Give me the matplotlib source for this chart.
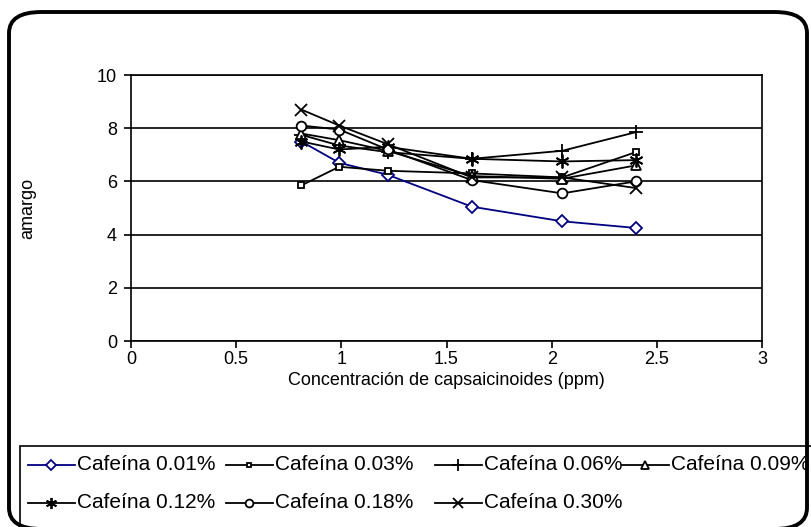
import matplotlib.pyplot as plt
from matplotlib.patches import FancyBboxPatch, Rectangle
from matplotlib.lines import Line2D

plt.rcParams['font.family'] = ['Liberation Sans', 'DejaVu Sans']

conc = [0.81, 0.99, 1.22, 1.62, 2.05, 2.40]
caf_001 = [7.50, 6.70, 6.25, 5.05, 4.50, 4.25]
caf_003 = [5.85, 6.55, 6.40, 6.30, 6.15, 7.10]
caf_006 = [7.75, 7.35, 7.10, 6.85, 7.15, 7.85]
caf_009 = [7.80, 7.55, 7.15, 6.20, 6.10, 6.60]
caf_012 = [7.50, 7.20, 7.30, 6.85, 6.75, 6.80]
caf_018 = [8.10, 7.95, 7.20, 6.05, 5.55, 6.00]
caf_030 = [8.70, 8.10, 7.40, 6.15, 6.15, 5.75]

labels = ['Cafeína 0.01%', 'Cafeína 0.03%', 'Cafeína 0.06%', 'Cafeína 0.09%',
          'Cafeína 0.12%', 'Cafeína 0.18%', 'Cafeína 0.30%']
series = [caf_001, caf_003, caf_006, caf_009, caf_012, caf_018, caf_030]

xticks = [0, 0.5, 1, 1.5, 2, 2.5, 3]
xticklabels = ['0', '0.5', '1', '1.5', '2', '2.5', '3']
yticks = [0, 2, 4, 6, 8, 10]

W, H = 811, 527
# marker, size, colour for each series
styles = [
    dict(marker='D', ms=6, color='#000080', mfc='white'),
    dict(marker='s', ms=4, color='black', mfc='white'),
    dict(marker='+', ms=10, color='black', mfc='white'),
    dict(marker='^', ms=7, color='black', mfc='white'),
    dict(marker=(6, 2, 0), ms=10, color='black', mfc='white'),
    dict(marker='o', ms=7, color='black', mfc='white'),
    dict(marker='x', ms=9, color='black', mfc='white'),
]


def fx(px):
    return px / W


def fy(py):
    return 1 - py / H


fig = plt.figure(figsize=(W / 100, H / 100), dpi=100)

# outer rounded frame
frame = FancyBboxPatch((fx(9), fy(529)), fx(798), fy(12) - fy(529),
                       boxstyle='round,pad=0,rounding_size=0.04',
                       transform=fig.transFigure, fill=False,
                       lw=2.8, ec='black', clip_on=False)
fig.patches.append(frame)

ax = fig.add_axes([fx(131), fy(341), fx(762) - fx(131), fy(75) - fy(341)])
for y, st in zip(series, styles):
    ax.plot(conc, y, lw=1.3, mew=1.3, **st)

ax.set_xlim(0, 3)
ax.set_ylim(0, 10)
ax.set_xticks(xticks)
ax.set_xticklabels(xticklabels)
ax.set_yticks(yticks)
ax.yaxis.grid(True, color='black', lw=1.2)
ax.set_axisbelow(True)
for s in ax.spines.values():
    s.set_linewidth(1.2)
ax.tick_params(direction='out', length=5, width=1.2, labelsize=13)
ax.tick_params(axis='x', pad=2)
ax.tick_params(axis='y', pad=5)
ax.set_xlabel('Concentración de capsaicinoides (ppm)', fontsize=13, labelpad=3)
ax.set_ylabel('amargo', fontsize=13, labelpad=44)

# legend box along the bottom
fig.patches.append(Rectangle((fx(20), fy(560)), fx(820), fy(446) - fy(560),
                             transform=fig.transFigure, fill=False,
                             lw=1.2, ec='black'))
col_x = [28, 226, 435, 622]
row_y = [465, 503]
for i, (lab, st) in enumerate(zip(labels, styles)):
    r, c = divmod(i, 4)
    x0 = col_x[c]
    yy = fy(row_y[r])
    fig.add_artist(Line2D([fx(x0), fx(x0 + 47)], [yy, yy], lw=1.3,
                          transform=fig.transFigure, color=st['color']))
    fig.add_artist(Line2D([fx(x0 + 23)], [yy], transform=fig.transFigure,
                          ls='none', marker=st['marker'], ms=st['ms'] * 0.8,
                          color=st['color'], mfc='white', mew=1.3))
    fig.text(fx(x0 + 49), yy, lab, fontsize=15, va='center', ha='left')

fig.savefig('out.png', dpi=100)
